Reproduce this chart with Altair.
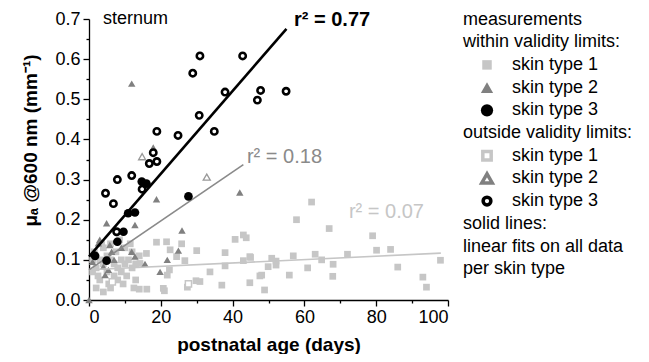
import altair as alt
import pandas as pd

# ---------------- data ----------------
# skin type 1, within validity limits (filled light-gray squares)
t1_in_x = [1, 1.5, 2, 2.5, 3, 3, 4, 4, 5, 5, 5.5, 6, 6, 7, 7, 7.5, 8, 8, 9, 9, 10, 10, 10.5, 11,
           12, 12, 13, 13, 14, 2, 4, 6, 3.5, 8.5, 11.5, 1, 9.5, 12.5, 14.2, 14, 16.1, 16, 18.8, 20.7,
           21, 21.6, 22.4, 21.8, 22.6, 24.4, 25.8, 26.7, 27.4, 29.8, 30, 30.9, 33.7, 37, 37.9, 37.9,
           40.7, 43, 43.8, 43, 44.8, 44.8, 45, 47.6, 48.1, 48.9, 49.9, 50.9, 52.1, 52.1, 55.8, 56.9,
           57.8, 60.9, 62, 63, 64.8, 66.9, 67.9, 68, 72, 79, 80.1, 84, 86, 93, 94, 97.9]
t1_in_y = [0.10, 0.12, 0.08, 0.06, 0.10, 0.05, 0.09, 0.13, 0.07, 0.11, 0.04, 0.10, 0.14, 0.06, 0.09,
           0.12, 0.08, 0.05, 0.10, 0.07, 0.13, 0.09, 0.06, 0.10, 0.08, 0.12, 0.05, 0.09, 0.11, 0.03,
           0.02, 0.03, 0.14, 0.15, 0.14, 0.07, 0.04, 0.03, 0.091, 0.027, 0.027, 0.116, 0.144, 0.029,
           0.023, 0.145, 0.075, 0.062, 0.125, 0.108, 0.14, 0.098, 0.032, 0.048, 0.123, 0.046, 0.07,
           0.037, 0.118, 0.085, 0.151, 0.162, 0.155, 0.098, 0.108, 0.043, 0.106, 0.06, 0.062, 0.025,
           0.083, 0.104, 0.097, 0.087, 0.062, 0.11, 0.20, 0.08, 0.244, 0.114, 0.10, 0.178, 0.059,
           0.089, 0.114, 0.16, 0.124, 0.126, 0.082, 0.057, 0.032, 0.099]
# skin type 1, outside validity limits (open squares)
t1_out_x = [27.7, 6.5]
t1_out_y = [0.04, 0.045]

# skin type 2, within validity limits (filled gray triangles)
t2_in_x = [0, 11.9, 17.9, 18.8, 42, 4.9, 12.8, 25.9, 2.6, 11.9, 24.9, 21.8, 15.6, 19.8, 5.4, 4, 4.5,
           1.7, 12.8, 6.3, 5.8, 3, 9, 1, 7]
t2_in_y = [0.0, 0.539, 0.38, 0.251, 0.268, 0.191, 0.187, 0.173, 0.141, 0.12, 0.123, 0.10, 0.09, 0.07,
           0.075, 0.083, 0.062, 0.116, 0.108, 0.12, 0.137, 0.15, 0.13, 0.095, 0.10]
# skin type 2, outside validity limits (open triangles)
t2_out_x = [14.8, 32.8]
t2_out_y = [0.357, 0.306]

# skin type 3, within validity limits (filled black circles)
t3_in_x = [1.7, 4.9, 7.9, 9.6, 10.9, 12.8, 14.7, 16.0, 27.7]
t3_in_y = [0.11, 0.098, 0.145, 0.17, 0.216, 0.218, 0.295, 0.29, 0.258]
# skin type 3, outside validity limits (open black circles)
t3_out_x = [4.6, 6.8, 7.9, 11.9, 7.7, 14.8, 16.8, 18.9, 17.9, 18.9, 24.8, 34.9, 30.7, 28.9, 30.9,
            42.8, 37.9, 46.9, 47.8, 54.9]
t3_out_y = [0.266, 0.24, 0.30, 0.31, 0.17, 0.276, 0.34, 0.345, 0.367, 0.42, 0.41, 0.42, 0.46, 0.565,
            0.608, 0.608, 0.518, 0.498, 0.522, 0.52]

# linear fits per skin type
fit_types = ["skin type 1", "skin type 2", "skin type 3"]
fit_intercept = [0.0755, 0.075, 0.108]
fit_slope = [0.00042, 0.0061, 0.01032]
fit_xmax = [98, 43, 55]
fit_r2 = ["r² = 0.07", "r² = 0.18", "r² = 0.77"]
r2_x = [72.4, 44.0, 57.1]
r2_y = [0.22, 0.357, 0.698]

x_ticks = list(range(0, 101, 10))
y_ticks = [round(i * 0.05, 2) for i in range(15)]

C1, C2, C3 = "#c6c6c6", "#808080", "#000000"
FONT = "Liberation Sans"

# ---------------- chart ----------------
xs = alt.Scale(domain=[0, 100], nice=False, zero=False)
ys = alt.Scale(domain=[0, 0.7], nice=False)

xaxis = alt.Axis(values=x_ticks, labelExpr="datum.value % 20 === 0 ? datum.label : ''",
                 tickSize={"condition": {"test": "datum.value % 20 === 0", "value": 6}, "value": 3},
                 grid=False, domainColor="black", tickColor="black", domainWidth=1.3, tickWidth=1.3,
                 labelFont=FONT, labelFontSize=18, labelColor="black", labelPadding=2,
                 title="postnatal age (days)", titleFont=FONT, titleFontSize=19, titleFontWeight="bold",
                 titleColor="black", titlePadding=9)
yaxis = alt.Axis(values=y_ticks, format=".1f",
                 labelExpr="round(datum.value*100) % 10 === 0 ? datum.label : ''",
                 tickSize={"condition": {"test": "round(datum.value*100) % 10 === 0", "value": 6}, "value": 3},
                 grid=False, domainColor="black", tickColor="black", domainWidth=1.3, tickWidth=1.3,
                 labelFont=FONT, labelFontSize=18, labelColor="black", labelPadding=3,
                 title="μₐ @600 nm (mm⁻¹)", titleFont=FONT, titleFontSize=19, titleFontWeight="bold",
                 titleColor="black", titleAngle=270, titleX=-49, titleY=121, titleAlign="center",
                 titleBaseline="bottom")


def pts(xv, yv):
    return pd.DataFrame({"x": xv, "y": yv})


def enc(ch):
    return ch.encode(x=alt.X("x:Q", scale=xs, axis=xaxis),
                     y=alt.Y("y:Q", scale=ys, axis=yaxis))


layers = []
layers.append(enc(alt.Chart(pts(t1_in_x, t1_in_y)).mark_point(
    shape="square", filled=True, color=C1, size=45, opacity=1)))
layers.append(enc(alt.Chart(pts(t1_out_x, t1_out_y)).mark_point(
    shape="square", filled=False, fill="white", stroke=C1, strokeWidth=1.5, size=38, opacity=1)))
layers.append(enc(alt.Chart(pts(t2_in_x, t2_in_y)).mark_point(
    shape="triangle-up", filled=True, color=C2, size=55, opacity=1)))
layers.append(enc(alt.Chart(pts(t2_out_x, t2_out_y)).mark_point(
    shape="triangle-up", filled=False, fill="white", stroke="#999999", strokeWidth=1.3, size=50, opacity=1)))

fit_rows = []
for t, b, m, xm in zip(fit_types, fit_intercept, fit_slope, fit_xmax):
    fit_rows.append({"type": t, "x": 0, "y": b})
    fit_rows.append({"type": t, "x": xm, "y": b + m * xm})
fit_df = pd.DataFrame(fit_rows)
for t, col, w in zip(fit_types, [C1, "#8a8a8a", C3], [1.6, 1.6, 2.6]):
    layers.append(enc(alt.Chart(fit_df[fit_df.type == t]).mark_line(color=col, strokeWidth=w)))

layers.append(enc(alt.Chart(pts(t3_in_x, t3_in_y)).mark_point(
    shape="circle", filled=True, color=C3, size=75, opacity=1)))
layers.append(enc(alt.Chart(pts(t3_out_x, t3_out_y)).mark_point(
    shape="circle", filled=False, fill="white", stroke=C3, strokeWidth=2.6, size=40, opacity=1)))

# r^2 annotations and panel label
for txt, xv, yv, col, wt in zip(fit_r2 + ["sternum"], r2_x + [3.9], r2_y + [0.70],
                                ["#c6c6c6", "#8a8a8a", "black", "black"],
                                ["normal", "normal", "bold", "normal"]):
    df = pd.DataFrame({"x": [xv], "y": [yv], "t": [txt]})
    layers.append(enc(alt.Chart(df).mark_text(
        align="left", baseline="middle", font=FONT, fontSize=20 if txt != "sternum" else 18,
        fontWeight=wt, color=col)).encode(text="t:N"))

# ---------------- legend (text block to the right) ----------------
leg_text = ["measurements", "within validity limits:", "skin type 1", "skin type 2", "skin type 3",
            "outside validity limits:", "skin type 1", "skin type 2", "skin type 3", "solid lines:",
            "linear fits on all data", "per skin type"]
leg_indent = [0, 0, 1, 1, 1, 0, 1, 1, 1, 0, 0, 0]
leg_y0, leg_dy = 0.5, 22.7
for i, (txt, ind) in enumerate(zip(leg_text, leg_indent)):
    layers.append(alt.Chart(pd.DataFrame({"t": [txt]})).mark_text(
        align="left", baseline="middle", font=FONT, fontSize=18, color="black").encode(
        text="t:N", x=alt.value(423 if ind else 374), y=alt.value(leg_y0 + i * leg_dy)))

leg_sym = [(2, "square", True, C1, 90), (3, "triangle-up", True, C2, 150), (4, "circle", True, C3, 150),
           (6, "square", False, C1, 70), (7, "triangle-up", False, C2, 110), (8, "circle", False, C3, 60)]
for row, shp, fl, col, sz in leg_sym:
    mk = dict(shape=shp, size=sz, opacity=1)
    if fl:
        mk.update(filled=True, color=col)
    else:
        mk.update(filled=False, fill="white", stroke=col, strokeWidth=3.5)
    layers.append(alt.Chart(pd.DataFrame({"a": [0]})).mark_point(**mk).encode(
        x=alt.value(398), y=alt.value(leg_y0 + row * leg_dy)))

chart = alt.layer(*layers).properties(
    width=359, height=281,
    autosize=alt.AutoSizeParams(type="none"),
    padding={"left": 81, "top": 11, "right": 193, "bottom": 54},
).configure(background="white").configure_view(stroke=None)

chart.save("out.html", embed_options={"renderer": "svg", "actions": False})
